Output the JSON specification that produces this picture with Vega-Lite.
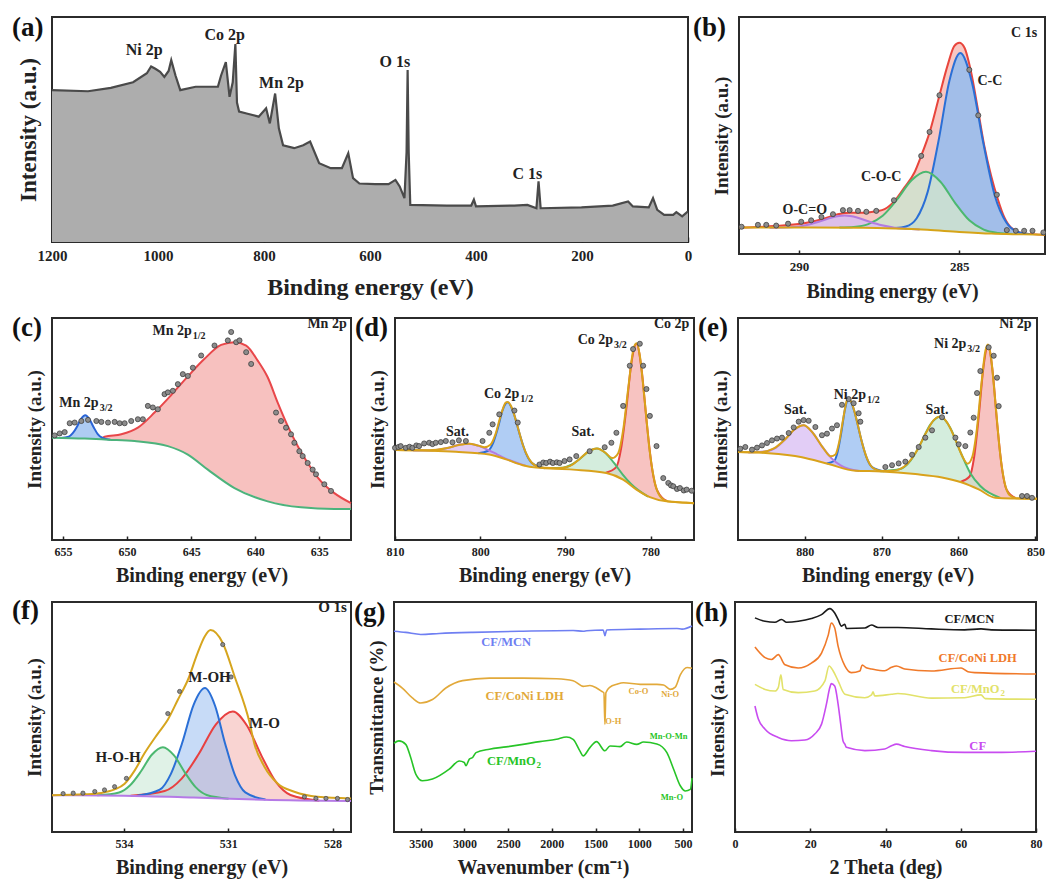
{
"$schema": "https://vega.github.io/schema/vega-lite/v6.json",
"background": "white",
"padding": {"left": 11, "top": 13, "right": 5, "bottom": 5},
"config": {
 "font": "Liberation Serif",
 "view": {"stroke": "#2b2b2b", "strokeWidth": 2},
 "axis": {"labelFont": "Liberation Serif", "labelFontWeight": "bold", "labelFontSize": 12, "labelColor": "#222", "titleFont": "Liberation Serif", "titleFontWeight": "bold", "titleFontSize": 20, "titleColor": "#222", "grid": false, "domain": false, "tickColor": "#222", "tickSize": -4, "tickWidth": 1.5, "labelFlush": false, "labelOverlap": false, "labelPadding": 10, "titlePadding": 8, "format": "d"},
 "axisY": {"labels": false, "ticks": false, "titlePadding": 8, "titleFontSize": 19},
 "title": {"anchor": "start", "frame": "group", "offset": -25, "baseline": "top", "fontSize": 27, "fontWeight": "bold", "font": "Liberation Serif", "color": "#111", "dx": -40},
 "text": {"font": "Liberation Serif", "fontWeight": "bold", "baseline": "middle"}
},
"datasets": {
 "a": [{"x":1200,"y":67.5},{"x":1132,"y":67},{"x":1089,"y":68.5},{"x":1047,"y":71},{"x":1021,"y":75},{"x":1013,"y":78},{"x":1005,"y":77},{"x":996,"y":75.6},{"x":988,"y":73.4},{"x":980,"y":76},{"x":975,"y":80.8},{"x":967,"y":74},{"x":958,"y":67.5},{"x":929,"y":69},{"x":887,"y":69},{"x":881,"y":74},{"x":872,"y":80},{"x":865,"y":64.5},{"x":859,"y":71},{"x":854,"y":88},{"x":851,"y":62},{"x":847,"y":58},{"x":831,"y":57},{"x":810,"y":55.7},{"x":796,"y":59.4},{"x":789,"y":52.7},{"x":779,"y":66},{"x":772,"y":50.5},{"x":764,"y":43},{"x":743,"y":41.7},{"x":726,"y":43},{"x":713,"y":44.6},{"x":696,"y":35},{"x":674,"y":32.8},{"x":653,"y":32.8},{"x":641,"y":39.4},{"x":632,"y":28.4},{"x":620,"y":26},{"x":590,"y":25.7},{"x":565,"y":25.7},{"x":552,"y":27.6},{"x":544,"y":24.7},{"x":535,"y":19.5},{"x":531,"y":40},{"x":529,"y":76.4},{"x":527,"y":40},{"x":524,"y":16.5},{"x":455,"y":16.2},{"x":409,"y":16.2},{"x":404,"y":18.8},{"x":400,"y":15.8},{"x":328,"y":16.2},{"x":303,"y":16.5},{"x":286,"y":15},{"x":282,"y":27},{"x":278,"y":15},{"x":201,"y":15.4},{"x":142,"y":16.2},{"x":113,"y":18},{"x":104,"y":15.8},{"x":74,"y":15.4},{"x":66,"y":19.5},{"x":58,"y":14.3},{"x":45,"y":12.1},{"x":28,"y":12.1},{"x":22,"y":13.3},{"x":11,"y":11.4},{"x":0,"y":13.6}],
 "a_lab": [{"x":1026,"y":85.2,"t":"Ni 2p"},{"x":874,"y":91.9,"t":"Co 2p"},{"x":767,"y":70.5,"t":"Mn 2p"},{"x":553,"y":80,"t":"O 1s"},{"x":303,"y":30.1,"t":"C 1s"}],
 "b": [
  {"x":291.87,"y":11.2,"b":11.2,"s":"env"},{"x":290.76,"y":11.8,"b":11.2,"s":"env"},{"x":289.72,"y":13.3,"b":11.15,"s":"env"},{"x":289.2,"y":15.0,"b":11.1,"s":"env"},{"x":288.79,"y":16.8,"b":11.1,"s":"env"},{"x":288.37,"y":17.4,"b":11.1,"s":"env"},{"x":287.96,"y":17.4,"b":11.1,"s":"env"},{"x":287.59,"y":18.0,"b":11.0,"s":"env"},{"x":287.33,"y":18.9,"b":10.9,"s":"env"},{"x":287.02,"y":22.4,"b":10.8,"s":"env"},{"x":286.71,"y":28.1,"b":10.6,"s":"env"},{"x":286.4,"y":34.4,"b":10.4,"s":"env"},{"x":286.19,"y":41.4,"b":10.3,"s":"env"},{"x":285.93,"y":51.2,"b":10.1,"s":"env"},{"x":285.62,"y":67.0,"b":9.9,"s":"env"},{"x":285.36,"y":79.9,"b":9.6,"s":"env"},{"x":285.16,"y":87.7,"b":9.45,"s":"env"},{"x":285.0,"y":89.1,"b":9.3,"s":"env"},{"x":284.84,"y":87.0,"b":9.2,"s":"env"},{"x":284.64,"y":77.1,"b":9.05,"s":"env"},{"x":284.43,"y":61.7,"b":8.9,"s":"env"},{"x":284.22,"y":45.5,"b":8.75,"s":"env"},{"x":284.01,"y":33.0,"b":8.6,"s":"env"},{"x":283.81,"y":23.5,"b":8.55,"s":"env"},{"x":283.6,"y":15.5,"b":8.5,"s":"env"},{"x":283.39,"y":11.2,"b":8.4,"s":"env"},{"x":282.98,"y":8.7,"b":8.3,"s":"env"},{"x":282.33,"y":8.1,"b":8.1,"s":"env"},
  {"x":287.01,"y":10.95,"b":10.8,"s":"p1"},{"x":286.67,"y":11.6,"b":10.6,"s":"p1"},{"x":286.33,"y":15.1,"b":10.4,"s":"p1"},{"x":285.99,"y":26.1,"b":10.2,"s":"p1"},{"x":285.65,"y":47.7,"b":9.9,"s":"p1"},{"x":285.31,"y":73.1,"b":9.6,"s":"p1"},{"x":284.97,"y":84.8,"b":9.3,"s":"p1"},{"x":284.61,"y":72.5,"b":9.0,"s":"p1"},{"x":284.25,"y":46.6,"b":8.8,"s":"p1"},{"x":283.89,"y":24.4,"b":8.55,"s":"p1"},{"x":283.53,"y":13.2,"b":8.45,"s":"p1"},{"x":283.17,"y":9.3,"b":8.3,"s":"p1"},{"x":282.81,"y":8.4,"b":8.25,"s":"p1"},
  {"x":288.74,"y":11.15,"b":11.1,"s":"p2"},{"x":288.29,"y":11.4,"b":11.1,"s":"p2"},{"x":287.84,"y":12.6,"b":11.05,"s":"p2"},{"x":287.39,"y":16.1,"b":11.0,"s":"p2"},{"x":286.94,"y":23.0,"b":10.75,"s":"p2"},{"x":286.49,"y":31.1,"b":10.5,"s":"p2"},{"x":286.04,"y":34.7,"b":10.2,"s":"p2"},{"x":285.59,"y":30.5,"b":9.85,"s":"p2"},{"x":285.14,"y":21.7,"b":9.4,"s":"p2"},{"x":284.69,"y":14.2,"b":9.1,"s":"p2"},{"x":284.24,"y":10.3,"b":8.8,"s":"p2"},{"x":283.79,"y":8.9,"b":8.55,"s":"p2"},{"x":283.34,"y":8.45,"b":8.4,"s":"p2"},
  {"x":290.92,"y":11.1,"b":11.1,"s":"p3"},{"x":290.53,"y":11.17,"b":11.1,"s":"p3"},{"x":290.14,"y":11.4,"b":11.1,"s":"p3"},{"x":289.75,"y":12.2,"b":11.1,"s":"p3"},{"x":289.36,"y":13.65,"b":11.1,"s":"p3"},{"x":288.97,"y":15.4,"b":11.1,"s":"p3"},{"x":288.58,"y":16.2,"b":11.1,"s":"p3"},{"x":288.19,"y":15.4,"b":11.1,"s":"p3"},{"x":287.8,"y":13.6,"b":11.05,"s":"p3"},{"x":287.41,"y":12.1,"b":11.0,"s":"p3"},{"x":287.02,"y":11.1,"b":10.8,"s":"p3"},{"x":286.63,"y":10.67,"b":10.6,"s":"p3"},{"x":286.24,"y":10.3,"b":10.3,"s":"p3"},
  {"x":291.87,"y":11.2,"s":"base"},{"x":288,"y":11.1,"s":"base"},{"x":287,"y":10.8,"s":"base"},{"x":286,"y":10.2,"s":"base"},{"x":285,"y":9.3,"s":"base"},{"x":284,"y":8.6,"s":"base"},{"x":283,"y":8.3,"s":"base"},{"x":282.33,"y":8.1,"s":"base"}
 ],
 "b_pts": [{"x":291.79,"y":11.5},{"x":291.28,"y":12.3},{"x":291.02,"y":12.3},{"x":290.71,"y":12.0},{"x":290.34,"y":12.8},{"x":289.93,"y":13.6},{"x":289.62,"y":14.2},{"x":289.3,"y":15.6},{"x":288.94,"y":16.8},{"x":288.63,"y":18.5},{"x":288.42,"y":18.5},{"x":288.16,"y":18.2},{"x":287.9,"y":17.8},{"x":287.59,"y":18.2},{"x":287.04,"y":22.7},{"x":286.19,"y":41.4},{"x":285.93,"y":51.5},{"x":285.62,"y":67.0},{"x":284.69,"y":77.7},{"x":284.41,"y":58.5},{"x":283.83,"y":25},{"x":283.52,"y":10.1},{"x":283.24,"y":9.8},{"x":282.98,"y":9.8},{"x":282.72,"y":9.8},{"x":282.38,"y":9.1}],
 "b_lab": [{"x":282.98,"y":93.3,"t":"C 1s"},{"x":284.05,"y":72.9,"t":"C-C"},{"x":287.44,"y":32.7,"t":"C-O-C"},{"x":289.82,"y":18.7,"t":"O-C=O"}],
 "c": [
  {"x":652.0,"y":45.4,"b":45.4,"s":"p1"},{"x":651.75,"y":46.5,"b":45.3,"s":"p1"},{"x":650.45,"y":47.6,"b":44.9,"s":"p1"},{"x":649.16,"y":50.6,"b":44.4,"s":"p1"},{"x":647.86,"y":57.4,"b":43.2,"s":"p1"},{"x":646.56,"y":65.3,"b":41.7,"s":"p1"},{"x":645.26,"y":73.7,"b":38.5,"s":"p1"},{"x":643.96,"y":81.6,"b":32.8,"s":"p1"},{"x":642.66,"y":87.9,"b":27.6,"s":"p1"},{"x":641.62,"y":89.1,"b":23.4,"s":"p1"},{"x":640.71,"y":87.6,"b":21.3,"s":"p1"},{"x":639.81,"y":80.8,"b":19.2,"s":"p1"},{"x":639.03,"y":73.3,"b":17.4,"s":"p1"},{"x":638.25,"y":61.9,"b":16.6,"s":"p1"},{"x":637.47,"y":51.4,"b":15.8,"s":"p1"},{"x":636.69,"y":42.3,"b":15.0,"s":"p1"},{"x":635.91,"y":34.7,"b":14.6,"s":"p1"},{"x":634.87,"y":26.4,"b":14.3,"s":"p1"},{"x":633.83,"y":21.1,"b":14.0,"s":"p1"},{"x":632.53,"y":16.6,"b":14.0,"s":"p1"},
  {"x":655.21,"y":46.0,"b":46.0,"s":"p2"},{"x":654.56,"y":46.5,"b":45.9,"s":"p2"},{"x":654.24,"y":48.1,"b":45.9,"s":"p2"},{"x":653.91,"y":51.05,"b":45.8,"s":"p2"},{"x":653.59,"y":54.6,"b":45.75,"s":"p2"},{"x":653.26,"y":56.2,"b":45.7,"s":"p2"},{"x":652.94,"y":54.4,"b":45.6,"s":"p2"},{"x":652.61,"y":50.8,"b":45.55,"s":"p2"},{"x":652.29,"y":47.7,"b":45.5,"s":"p2"},{"x":651.96,"y":46.1,"b":45.45,"s":"p2"},{"x":651.31,"y":45.15,"b":45.15,"s":"p2"},
  {"x":655.86,"y":46.1,"s":"base"},{"x":653.31,"y":45.7,"s":"base"},{"x":651.49,"y":45.2,"s":"base"},{"x":649.42,"y":44.6,"s":"base"},{"x":646.82,"y":42.3,"s":"base"},{"x":645.26,"y":38.5,"s":"base"},{"x":643.7,"y":31.7,"s":"base"},{"x":641.62,"y":23.4,"s":"base"},{"x":639.03,"y":17.4,"s":"base"},{"x":636.43,"y":14.7,"s":"base"},{"x":633.83,"y":14.0,"s":"base"},{"x":632.53,"y":14.0,"s":"base"}
 ],
 "c_pts": [{"x":655.65,"y":47.1},{"x":655.26,"y":48.0},{"x":654.87,"y":48.6},{"x":654.48,"y":52.6},{"x":654.09,"y":52.9},{"x":653.57,"y":53.6},{"x":653.05,"y":54.1},{"x":652.4,"y":53.6},{"x":652.01,"y":53.2},{"x":651.49,"y":52.9},{"x":650.97,"y":53.2},{"x":650.58,"y":52.6},{"x":650.19,"y":52.6},{"x":649.68,"y":53.6},{"x":649.16,"y":54.4},{"x":648.77,"y":54.4},{"x":648.38,"y":60.4},{"x":647.99,"y":59.7},{"x":647.6,"y":58.9},{"x":647.08,"y":65.7},{"x":646.82,"y":66.5},{"x":646.43,"y":67.2},{"x":646.04,"y":70.2},{"x":645.65,"y":74.7},{"x":645.26,"y":73.9},{"x":644.87,"y":77.6},{"x":644.22,"y":83.1},{"x":643.18,"y":87.6},{"x":642.14,"y":89.9},{"x":641.88,"y":93.7},{"x":641.49,"y":89.1},{"x":641.23,"y":89.9},{"x":640.71,"y":84.6},{"x":640.32,"y":79.3},{"x":638.38,"y":57.4},{"x":637.99,"y":53.6},{"x":637.6,"y":50.6},{"x":637.21,"y":47.6},{"x":636.95,"y":43.8},{"x":636.56,"y":40.0},{"x":636.3,"y":37.8},{"x":635.91,"y":34.7},{"x":635.52,"y":31.7},{"x":635.26,"y":29.6},{"x":634.61,"y":25.1},{"x":634.09,"y":22.1}],
 "c_lab": [{"x":634.4,"y":97.4,"t":"Mn 2p"},{"x":644.95,"y":94,"t":"Mn 2p","sub":"1/2"},{"x":652.22,"y":61.6,"t":"Mn 2p","sub":"3/2"}],
 "d": [
  {"x":785.25,"y":30.3,"b":30.2,"s":"p1"},{"x":784.05,"y":32.7,"b":28.6,"s":"p1"},{"x":783.45,"y":41.4,"b":27.6,"s":"p1"},{"x":782.85,"y":59.1,"b":26.2,"s":"p1"},{"x":782.25,"y":79.7,"b":24.4,"s":"p1"},{"x":781.65,"y":88.4,"b":22.7,"s":"p1"},{"x":781.05,"y":76.7,"b":21.4,"s":"p1"},{"x":780.45,"y":53.0,"b":20.1,"s":"p1"},{"x":779.85,"y":32.9,"b":19.1,"s":"p1"},{"x":779.25,"y":22.6,"b":18.5,"s":"p1"},{"x":778.05,"y":17.5,"b":17.4,"s":"p1"},
  {"x":800.22,"y":39.05,"b":39.0,"s":"p2"},{"x":799.07,"y":40.2,"b":38.6,"s":"p2"},{"x":798.5,"y":43.5,"b":38.1,"s":"p2"},{"x":797.92,"y":50.5,"b":37.5,"s":"p2"},{"x":797.35,"y":58.7,"b":36.9,"s":"p2"},{"x":796.77,"y":62.0,"b":36.1,"s":"p2"},{"x":796.05,"y":56.9,"b":35.1,"s":"p2"},{"x":795.32,"y":47.1,"b":34.1,"s":"p2"},{"x":794.6,"y":38.8,"b":33.4,"s":"p2"},{"x":793.87,"y":34.5,"b":32.9,"s":"p2"},{"x":792.42,"y":32.35,"b":32.3,"s":"p2"},
  {"x":792.29,"y":32.45,"b":32.4,"s":"p3"},{"x":790.29,"y":32.6,"b":31.95,"s":"p3"},{"x":789.29,"y":33.9,"b":31.7,"s":"p3"},{"x":788.29,"y":36.6,"b":31.3,"s":"p3"},{"x":787.29,"y":39.8,"b":30.9,"s":"p3"},{"x":786.29,"y":41.2,"b":30.6,"s":"p3"},{"x":785.29,"y":39.2,"b":30.3,"s":"p3"},{"x":784.29,"y":34.7,"b":29.4,"s":"p3"},{"x":783.29,"y":29.6,"b":27.4,"s":"p3"},{"x":782.29,"y":25.2,"b":24.5,"s":"p3"},{"x":780.29,"y":19.5,"b":19.5,"s":"p3"},
  {"x":807.88,"y":40.3,"b":40.3,"s":"p4"},{"x":805.68,"y":40.35,"b":40.1,"s":"p4"},{"x":804.58,"y":40.84,"b":40.0,"s":"p4"},{"x":803.48,"y":41.8,"b":39.8,"s":"p4"},{"x":802.38,"y":43.0,"b":39.6,"s":"p4"},{"x":801.28,"y":43.4,"b":39.4,"s":"p4"},{"x":800.18,"y":42.4,"b":39.0,"s":"p4"},{"x":799.08,"y":40.6,"b":38.6,"s":"p4"},{"x":797.98,"y":38.5,"b":37.7,"s":"p4"},{"x":796.88,"y":36.45,"b":36.2,"s":"p4"},{"x":794.68,"y":33.5,"b":33.5,"s":"p4"},
  {"x":810,"y":40.5,"s":"base"},{"x":802.85,"y":39.7,"s":"base"},{"x":798.93,"y":38.5,"s":"base"},{"x":796.96,"y":36.3,"s":"base"},{"x":795.0,"y":33.7,"s":"base"},{"x":793.43,"y":32.6,"s":"base"},{"x":789.11,"y":31.7,"s":"base"},{"x":785.19,"y":30.2,"s":"base"},{"x":783.22,"y":27.2,"s":"base"},{"x":781.65,"y":22.7,"s":"base"},{"x":780.08,"y":19.3,"s":"base"},{"x":778.12,"y":17.4,"s":"base"},{"x":774.9,"y":16.6,"s":"base"},
  {"x":810,"y":40.5,"s":"env"},{"x":806,"y":40.4,"s":"env"},{"x":804,"y":41.3,"s":"env"},{"x":802.5,"y":42.8,"s":"env"},{"x":801.3,"y":43.4,"s":"env"},{"x":800.2,"y":42.5,"s":"env"},{"x":799.5,"y":41.8,"s":"env"},{"x":798.8,"y":42.9,"s":"env"},{"x":798.2,"y":47.7,"s":"env"},{"x":797.6,"y":55.9,"s":"env"},{"x":797.0,"y":61.9,"s":"env"},{"x":796.77,"y":62.2,"s":"env"},{"x":796.3,"y":59.7,"s":"env"},{"x":795.7,"y":52.4,"s":"env"},{"x":795.0,"y":42.9,"s":"env"},{"x":794.3,"y":36.7,"s":"env"},{"x":793.5,"y":33.45,"s":"env"},{"x":792.5,"y":32.5,"s":"env"},{"x":791,"y":32.3,"s":"env"},{"x":789.5,"y":33.3,"s":"env"},{"x":788.3,"y":36.6,"s":"env"},{"x":787.3,"y":39.8,"s":"env"},{"x":786.3,"y":41.2,"s":"env"},{"x":785.3,"y":39.3,"s":"env"},{"x":784.5,"y":36.9,"s":"env"},{"x":783.8,"y":39.1,"s":"env"},{"x":783.2,"y":49.9,"s":"env"},{"x":782.6,"y":69.0,"s":"env"},{"x":782.0,"y":86.1,"s":"env"},{"x":781.65,"y":88.6,"s":"env"},{"x":781.3,"y":84.0,"s":"env"},{"x":780.7,"y":63.2,"s":"env"},{"x":780.1,"y":40.0,"s":"env"},{"x":779.5,"y":25.8,"s":"env"},{"x":778.9,"y":19.8,"s":"env"},{"x":778.0,"y":17.5,"s":"env"},{"x":776,"y":16.9,"s":"env"},{"x":774.9,"y":16.6,"s":"env"}
 ],
 "d_pts": [{"x":810.0,"y":41.5},{"x":809.6,"y":41.9},{"x":809.33,"y":42.3},{"x":808.74,"y":41.5},{"x":808.3,"y":42.0},{"x":807.96,"y":41.5},{"x":807.5,"y":42.6},{"x":807.17,"y":42.3},{"x":806.58,"y":43.5},{"x":805.99,"y":43.8},{"x":805.6,"y":43.2},{"x":805.21,"y":43.8},{"x":804.62,"y":44.1},{"x":804.03,"y":44.6},{"x":803.25,"y":44.0},{"x":802.5,"y":44.9},{"x":801.68,"y":44.6},{"x":799.72,"y":44.6},{"x":798.93,"y":48.3},{"x":798.54,"y":52.1},{"x":797.76,"y":56.6},{"x":795.98,"y":58.3},{"x":795.59,"y":52.9},{"x":793.04,"y":34.0},{"x":792.6,"y":34.9},{"x":792.25,"y":34.7},{"x":791.8,"y":35.3},{"x":791.47,"y":34.7},{"x":791.0,"y":35.0},{"x":790.68,"y":34.7},{"x":790.1,"y":35.6},{"x":789.5,"y":36.3},{"x":788.72,"y":37.8},{"x":787.15,"y":40.0},{"x":785.38,"y":41.8},{"x":784.6,"y":43.8},{"x":784.01,"y":48.3},{"x":783.22,"y":60.4},{"x":782.44,"y":78.5},{"x":782.05,"y":86.0},{"x":781.26,"y":88.4},{"x":780.87,"y":78.5},{"x":780.48,"y":68.0},{"x":780.08,"y":55.9},{"x":779.3,"y":42.3},{"x":778.51,"y":27.9},{"x":777.92,"y":25.7},{"x":777.6,"y":24.6},{"x":777.33,"y":24.2},{"x":776.9,"y":23.0},{"x":776.55,"y":23.4},{"x":776.1,"y":22.3},{"x":775.76,"y":22.7},{"x":775.17,"y":22.2}],
 "d_lab": [{"x":777.53,"y":97.4,"t":"Co 2p"},{"x":784.4,"y":89.9,"t":"Co 2p","sub":"3/2"},{"x":795.4,"y":65.7,"t":"Co 2p","sub":"1/2"},{"x":802.66,"y":48.6,"t":"Sat."},{"x":787.93,"y":48.6,"t":"Sat."}],
 "e": [
  {"x":859.76,"y":26.2,"b":26.1,"s":"p1"},{"x":858.56,"y":28.6,"b":24.5,"s":"p1"},{"x":857.96,"y":37.5,"b":23.6,"s":"p1"},{"x":857.36,"y":55.9,"b":22.8,"s":"p1"},{"x":856.76,"y":77.7,"b":22.0,"s":"p1"},{"x":856.16,"y":87.5,"b":21.3,"s":"p1"},{"x":855.56,"y":76.0,"b":20.3,"s":"p1"},{"x":854.96,"y":52.1,"b":19.0,"s":"p1"},{"x":854.36,"y":32.7,"b":18.8,"s":"p1"},{"x":853.76,"y":22.8,"b":18.7,"s":"p1"},{"x":852.56,"y":18.8,"b":18.7,"s":"p1"},
  {"x":877.13,"y":34.5,"b":34.4,"s":"p2"},{"x":876.18,"y":35.6,"b":33.6,"s":"p2"},{"x":875.71,"y":39.8,"b":33.2,"s":"p2"},{"x":875.23,"y":48.6,"b":32.8,"s":"p2"},{"x":874.76,"y":58.9,"b":32.4,"s":"p2"},{"x":874.28,"y":63.6,"b":32.1,"s":"p2"},{"x":873.52,"y":57.8,"b":31.3,"s":"p2"},{"x":872.76,"y":46.9,"b":31.1,"s":"p2"},{"x":872.0,"y":37.6,"b":31.0,"s":"p2"},{"x":871.24,"y":32.9,"b":30.9,"s":"p2"},{"x":869.72,"y":31.0,"b":30.9,"s":"p2"},
  {"x":870.16,"y":30.95,"b":30.9,"s":"p3"},{"x":867.56,"y":32.0,"b":30.3,"s":"p3"},{"x":866.26,"y":35.6,"b":29.9,"s":"p3"},{"x":864.96,"y":43.2,"b":29.5,"s":"p3"},{"x":863.66,"y":52.0,"b":29.0,"s":"p3"},{"x":862.36,"y":55.6,"b":28.3,"s":"p3"},{"x":861.06,"y":50.5,"b":27.5,"s":"p3"},{"x":859.76,"y":39.8,"b":26.1,"s":"p3"},{"x":858.46,"y":30.1,"b":24.4,"s":"p3"},{"x":857.16,"y":24.3,"b":22.6,"s":"p3"},{"x":854.56,"y":18.95,"b":18.9,"s":"p3"},
  {"x":887.33,"y":39.4,"b":39.4,"s":"p4"},{"x":884.93,"y":40.0,"b":39.1,"s":"p4"},{"x":883.73,"y":41.6,"b":38.6,"s":"p4"},{"x":882.53,"y":45.4,"b":38.2,"s":"p4"},{"x":881.33,"y":49.8,"b":37.7,"s":"p4"},{"x":880.13,"y":51.7,"b":37.3,"s":"p4"},{"x":878.93,"y":48.2,"b":36.1,"s":"p4"},{"x":877.73,"y":42.1,"b":34.9,"s":"p4"},{"x":876.53,"y":36.9,"b":33.9,"s":"p4"},{"x":875.33,"y":33.6,"b":32.7,"s":"p4"},{"x":872.93,"y":31.1,"b":31.1,"s":"p4"},
  {"x":888.67,"y":39.6,"s":"base"},{"x":884.68,"y":39.1,"s":"base"},{"x":880.35,"y":37.3,"s":"base"},{"x":876.88,"y":34.2,"s":"base"},{"x":873.41,"y":31.2,"s":"base"},{"x":869.94,"y":30.9,"s":"base"},{"x":865.61,"y":29.7,"s":"base"},{"x":862.14,"y":28.2,"s":"base"},{"x":859.54,"y":25.9,"s":"base"},{"x":857.37,"y":22.8,"s":"base"},{"x":855.21,"y":19.0,"s":"base"},{"x":853.04,"y":18.7,"s":"base"},{"x":849.79,"y":18.6,"s":"base"},
  {"x":888.67,"y":39.6,"s":"env"},{"x":886,"y":39.5,"s":"env"},{"x":884,"y":41.3,"s":"env"},{"x":882.5,"y":45.5,"s":"env"},{"x":881.3,"y":49.9,"s":"env"},{"x":880.13,"y":51.7,"s":"env"},{"x":879,"y":48.5,"s":"env"},{"x":877.7,"y":42.0,"s":"env"},{"x":876.6,"y":37.7,"s":"env"},{"x":876.0,"y":38.5,"s":"env"},{"x":875.5,"y":44.3,"s":"env"},{"x":875.0,"y":54.4,"s":"env"},{"x":874.5,"y":63.0,"s":"env"},{"x":874.28,"y":63.8,"s":"env"},{"x":873.8,"y":61.0,"s":"env"},{"x":873.2,"y":53.4,"s":"env"},{"x":872.5,"y":43.3,"s":"env"},{"x":871.8,"y":36.0,"s":"env"},{"x":871,"y":32.1,"s":"env"},{"x":870,"y":31.1,"s":"env"},{"x":868.5,"y":31.2,"s":"env"},{"x":867,"y":33.2,"s":"env"},{"x":865.5,"y":39.6,"s":"env"},{"x":864.2,"y":48.4,"s":"env"},{"x":863.2,"y":54.1,"s":"env"},{"x":862.36,"y":55.6,"s":"env"},{"x":861.4,"y":52.5,"s":"env"},{"x":860.3,"y":44.3,"s":"env"},{"x":859.5,"y":37.7,"s":"env"},{"x":858.8,"y":34.4,"s":"env"},{"x":858.2,"y":37.5,"s":"env"},{"x":857.6,"y":50.2,"s":"env"},{"x":857.0,"y":70.9,"s":"env"},{"x":856.5,"y":85.3,"s":"env"},{"x":856.16,"y":88.1,"s":"env"},{"x":855.8,"y":83.0,"s":"env"},{"x":855.2,"y":61.9,"s":"env"},{"x":854.6,"y":39.4,"s":"env"},{"x":854.0,"y":25.8,"s":"env"},{"x":853.4,"y":20.4,"s":"env"},{"x":852.5,"y":18.8,"s":"env"},{"x":851,"y":18.6,"s":"env"},{"x":849.79,"y":18.6,"s":"env"}
 ],
 "e_pts": [{"x":888.37,"y":41.1},{"x":887.72,"y":41.9},{"x":886.85,"y":40.7},{"x":886.2,"y":41.6},{"x":885.55,"y":42.6},{"x":884.9,"y":43.7},{"x":884.25,"y":44.9},{"x":883.6,"y":45.7},{"x":882.95,"y":46.1},{"x":882.08,"y":48.2},{"x":881.43,"y":50.7},{"x":880.78,"y":53.3},{"x":880.13,"y":54.0},{"x":879.48,"y":53.7},{"x":878.61,"y":50.9},{"x":877.75,"y":47.2},{"x":877.1,"y":47.9},{"x":876.45,"y":50.2},{"x":875.8,"y":51.7},{"x":875.15,"y":60.9},{"x":874.28,"y":63.5},{"x":873.63,"y":61.6},{"x":872.98,"y":57.1},{"x":872.76,"y":53.3},{"x":869.51,"y":32.9},{"x":868.64,"y":33.7},{"x":867.78,"y":34.5},{"x":866.91,"y":35.3},{"x":866.04,"y":38.4},{"x":865.17,"y":41.9},{"x":864.31,"y":46.1},{"x":863.44,"y":49.4},{"x":862.14,"y":55.3},{"x":860.4,"y":46.1},{"x":859.97,"y":43.1},{"x":859.11,"y":42.3},{"x":858.46,"y":48.4},{"x":858.02,"y":55.1},{"x":857.59,"y":66.2},{"x":857.16,"y":76.1},{"x":856.07,"y":86.8},{"x":855.42,"y":83.0},{"x":854.99,"y":73.1},{"x":854.77,"y":60.3},{"x":851.74,"y":19.8},{"x":851.09,"y":19.8},{"x":850.44,"y":19.0}],
 "e_lab": [{"x":852.6,"y":97.4,"t":"Ni 2p"},{"x":858.98,"y":88.3,"t":"Ni 2p","sub":"3/2"},{"x":872.02,"y":65.4,"t":"Ni 2p","sub":"1/2"},{"x":881.21,"y":58.6,"t":"Sat."},{"x":862.79,"y":58.6,"t":"Sat."}],
 "f": [
  {"x":533.81,"y":15.8,"b":15.75,"s":"p1"},{"x":532.83,"y":17.8,"b":15.4,"s":"p1"},{"x":532.34,"y":23.2,"b":15.15,"s":"p1"},{"x":531.85,"y":33.9,"b":14.9,"s":"p1"},{"x":531.36,"y":46.7,"b":14.7,"s":"p1"},{"x":530.87,"y":52.4,"b":14.45,"s":"p1"},{"x":530.46,"y":46.2,"b":14.25,"s":"p1"},{"x":530.04,"y":33.0,"b":14.0,"s":"p1"},{"x":529.63,"y":21.8,"b":13.85,"s":"p1"},{"x":529.21,"y":16.1,"b":13.7,"s":"p1"},{"x":528.38,"y":13.6,"b":13.55,"s":"p1"},
  {"x":533.62,"y":15.75,"b":15.65,"s":"p2"},{"x":532.97,"y":18.4,"b":15.4,"s":"p2"},{"x":532.65,"y":25.3,"b":15.25,"s":"p2"},{"x":532.32,"y":39.0,"b":15.1,"s":"p2"},{"x":532.0,"y":55.2,"b":15.0,"s":"p2"},{"x":531.67,"y":62.6,"b":14.85,"s":"p2"},{"x":531.38,"y":54.9,"b":14.7,"s":"p2"},{"x":531.09,"y":38.4,"b":14.55,"s":"p2"},{"x":530.8,"y":24.4,"b":14.4,"s":"p2"},{"x":530.51,"y":17.2,"b":14.25,"s":"p2"},{"x":529.93,"y":14.1,"b":14.0,"s":"p2"},
  {"x":534.77,"y":15.95,"b":15.9,"s":"p3"},{"x":534.14,"y":17.2,"b":15.85,"s":"p3"},{"x":533.83,"y":20.2,"b":15.7,"s":"p3"},{"x":533.51,"y":26.4,"b":15.6,"s":"p3"},{"x":533.2,"y":33.6,"b":15.5,"s":"p3"},{"x":532.88,"y":36.9,"b":15.35,"s":"p3"},{"x":532.56,"y":33.3,"b":15.2,"s":"p3"},{"x":532.25,"y":25.9,"b":15.1,"s":"p3"},{"x":531.94,"y":19.5,"b":15.0,"s":"p3"},{"x":531.62,"y":16.1,"b":14.8,"s":"p3"},{"x":530.99,"y":14.5,"b":14.5,"s":"p3"},
  {"x":536.07,"y":16.0,"s":"base"},{"x":534,"y":15.8,"s":"base"},{"x":532,"y":15.0,"s":"base"},{"x":530,"y":14.0,"s":"base"},{"x":527.47,"y":13.5,"s":"base"},
  {"x":536.07,"y":16.0,"s":"env"},{"x":535.13,"y":16.4,"s":"env"},{"x":534.65,"y":17.0,"s":"env"},{"x":534.27,"y":18.5,"s":"env"},{"x":533.98,"y":21.0,"s":"env"},{"x":533.69,"y":26.8,"s":"env"},{"x":533.41,"y":34.2,"s":"env"},{"x":533.02,"y":42.9,"s":"env"},{"x":532.74,"y":48.8,"s":"env"},{"x":532.45,"y":57.5,"s":"env"},{"x":532.16,"y":66.2,"s":"env"},{"x":531.88,"y":77.9,"s":"env"},{"x":531.67,"y":85.2,"s":"env"},{"x":531.51,"y":87.8,"s":"env"},{"x":531.16,"y":82.2,"s":"env"},{"x":530.82,"y":67.7,"s":"env"},{"x":530.39,"y":47.7,"s":"env"},{"x":530.25,"y":38.4,"s":"env"},{"x":529.96,"y":28.4,"s":"env"},{"x":529.58,"y":21.1,"s":"env"},{"x":529.1,"y":17.5,"s":"env"},{"x":528.43,"y":15.3,"s":"env"},{"x":527.47,"y":14.6,"s":"env"}
 ],
 "f_pts": [{"x":535.75,"y":16.7},{"x":535.46,"y":16.9},{"x":535.18,"y":16.9},{"x":534.84,"y":17.6},{"x":534.56,"y":18.3},{"x":534.27,"y":19.7},{"x":533.93,"y":23.3},{"x":532.74,"y":51.5},{"x":532.4,"y":61.1},{"x":531.16,"y":81.5},{"x":530.92,"y":67.4},{"x":528.81,"y":15.3},{"x":528.48,"y":14.6},{"x":528.19,"y":14.6},{"x":527.86,"y":14.6},{"x":527.57,"y":14.1}],
 "f_lab": [{"x":528.0,"y":97.8,"t":"O 1s"},{"x":531.54,"y":67.4,"t":"M-OH"},{"x":529.96,"y":47.3,"t":"M-O"},{"x":534.17,"y":32.8,"t":"H-O-H"}],
 "g": [
  {"x":3806,"y":87.3,"s":"MCN"},{"x":3672,"y":86.8,"s":"MCN"},{"x":3500,"y":85.9,"s":"MCN"},{"x":3289,"y":86.3,"s":"MCN"},{"x":2906,"y":86.8,"s":"MCN"},{"x":2331,"y":87.3,"s":"MCN"},{"x":1757,"y":87.6,"s":"MCN"},{"x":1642,"y":87.3,"s":"MCN"},{"x":1600,"y":87.5,"s":"MCN"},{"x":1412,"y":87.8,"s":"MCN"},{"x":1393,"y":85.3,"s":"MCN"},{"x":1374,"y":87.8,"s":"MCN"},{"x":990,"y":88.2,"s":"MCN"},{"x":569,"y":88.5,"s":"MCN"},{"x":511,"y":88.2,"s":"MCN"},{"x":397,"y":89.6,"s":"MCN"},
  {"x":3806,"y":65.2,"s":"LDH"},{"x":3711,"y":62.6,"s":"LDH"},{"x":3596,"y":58.3,"s":"LDH"},{"x":3500,"y":56.1,"s":"LDH"},{"x":3366,"y":57.6,"s":"LDH"},{"x":3213,"y":62.6,"s":"LDH"},{"x":3021,"y":65.8,"s":"LDH"},{"x":2715,"y":66.9,"s":"LDH"},{"x":2331,"y":66.9,"s":"LDH"},{"x":1948,"y":66.6,"s":"LDH"},{"x":1757,"y":65.8,"s":"LDH"},{"x":1642,"y":63.3,"s":"LDH"},{"x":1565,"y":63.7,"s":"LDH"},{"x":1489,"y":62.6,"s":"LDH"},{"x":1431,"y":61.2,"s":"LDH"},{"x":1405,"y":60.5,"s":"LDH"},{"x":1393,"y":46.8,"s":"LDH"},{"x":1382,"y":60.5,"s":"LDH"},{"x":1335,"y":63.0,"s":"LDH"},{"x":1259,"y":64.2,"s":"LDH"},{"x":1182,"y":64.9,"s":"LDH"},{"x":990,"y":64.2,"s":"LDH"},{"x":799,"y":64.2,"s":"LDH"},{"x":722,"y":63.9,"s":"LDH"},{"x":646,"y":62.0,"s":"LDH"},{"x":588,"y":63.0,"s":"LDH"},{"x":531,"y":68.3,"s":"LDH"},{"x":454,"y":71.5,"s":"LDH"},{"x":397,"y":71.2,"s":"LDH"},
  {"x":3806,"y":38.6,"s":"MnO2"},{"x":3749,"y":39.6,"s":"MnO2"},{"x":3672,"y":38.1,"s":"MnO2"},{"x":3615,"y":32.4,"s":"MnO2"},{"x":3557,"y":25.2,"s":"MnO2"},{"x":3481,"y":22.3,"s":"MnO2"},{"x":3366,"y":23.0,"s":"MnO2"},{"x":3174,"y":27.3,"s":"MnO2"},{"x":3059,"y":30.9,"s":"MnO2"},{"x":3002,"y":30.2,"s":"MnO2"},{"x":2983,"y":28.8,"s":"MnO2"},{"x":2944,"y":31.7,"s":"MnO2"},{"x":2906,"y":32.4,"s":"MnO2"},{"x":2868,"y":34.5,"s":"MnO2"},{"x":2715,"y":36.0,"s":"MnO2"},{"x":2523,"y":37.0,"s":"MnO2"},{"x":2331,"y":38.1,"s":"MnO2"},{"x":2140,"y":39.3,"s":"MnO2"},{"x":1948,"y":40.3,"s":"MnO2"},{"x":1833,"y":41.3,"s":"MnO2"},{"x":1757,"y":40.3,"s":"MnO2"},{"x":1680,"y":35.3,"s":"MnO2"},{"x":1642,"y":33.1,"s":"MnO2"},{"x":1565,"y":36.7,"s":"MnO2"},{"x":1489,"y":39.3,"s":"MnO2"},{"x":1393,"y":35.3,"s":"MnO2"},{"x":1335,"y":37.4,"s":"MnO2"},{"x":1220,"y":37.1,"s":"MnO2"},{"x":1144,"y":39.1,"s":"MnO2"},{"x":1029,"y":38.1,"s":"MnO2"},{"x":952,"y":39.1,"s":"MnO2"},{"x":799,"y":38.3,"s":"MnO2"},{"x":684,"y":34.5,"s":"MnO2"},{"x":607,"y":27.3,"s":"MnO2"},{"x":531,"y":20.1,"s":"MnO2"},{"x":473,"y":17.8,"s":"MnO2"},{"x":416,"y":18.5,"s":"MnO2"},{"x":397,"y":23.4,"s":"MnO2"}
 ],
 "g_lab": [{"x":2523,"y":82.7,"t":"CF/MCN","s":"MCN","z":"big"},{"x":2312,"y":59,"t":"CF/CoNi LDH","s":"LDH","z":"big"},{"x":1010,"y":61.2,"t":"Co-O","s":"LDH","z":"small"},{"x":646,"y":60,"t":"Ni-O","s":"LDH","z":"small"},{"x":1297,"y":48.2,"t":"O-H","s":"LDH","z":"small"},{"x":665,"y":41.7,"t":"Mn-O-Mn","s":"MnO2","z":"small"},{"x":627,"y":15.1,"t":"Mn-O","s":"MnO2","z":"small"}],
 "g_sub": [{"x":2186,"y":30.9,"t":"CF/MnO","sub":"2","s":"MnO2"}],
 "h": [
  {"x":5.3,"y":93.1,"s":"MCN"},{"x":8.0,"y":91.6,"s":"MCN"},{"x":10.6,"y":91.2,"s":"MCN"},{"x":12.4,"y":92.4,"s":"MCN"},{"x":13.7,"y":91.2,"s":"MCN"},{"x":16.8,"y":91.6,"s":"MCN"},{"x":20.3,"y":92.8,"s":"MCN"},{"x":23.0,"y":94.5,"s":"MCN"},{"x":25.2,"y":97.1,"s":"MCN"},{"x":26.5,"y":95.2,"s":"MCN"},{"x":27.4,"y":92.4,"s":"MCN"},{"x":28.3,"y":89.5,"s":"MCN"},{"x":29.2,"y":90.3,"s":"MCN"},{"x":29.6,"y":88.5,"s":"MCN"},{"x":34.5,"y":88.7,"s":"MCN"},{"x":36.3,"y":90.0,"s":"MCN"},{"x":38.0,"y":88.9,"s":"MCN"},{"x":43.3,"y":88.9,"s":"MCN"},{"x":52.2,"y":88.3,"s":"MCN"},{"x":61.0,"y":87.9,"s":"MCN"},{"x":65.4,"y":88.3,"s":"MCN"},{"x":68.1,"y":87.9,"s":"MCN"},{"x":80,"y":87.7,"s":"MCN"},
  {"x":5.3,"y":80.4,"s":"LDH"},{"x":8.0,"y":75.8,"s":"LDH"},{"x":9.7,"y":75.0,"s":"LDH"},{"x":11.5,"y":77.1,"s":"LDH"},{"x":13.3,"y":72.7,"s":"LDH"},{"x":16.8,"y":71.3,"s":"LDH"},{"x":20.3,"y":73.4,"s":"LDH"},{"x":23.0,"y":77.8,"s":"LDH"},{"x":24.8,"y":85.7,"s":"LDH"},{"x":25.6,"y":90.9,"s":"LDH"},{"x":26.5,"y":88.7,"s":"LDH"},{"x":27.4,"y":80.8,"s":"LDH"},{"x":29.2,"y":72.2,"s":"LDH"},{"x":30.9,"y":69.3,"s":"LDH"},{"x":33.2,"y":70.0,"s":"LDH"},{"x":33.8,"y":72.6,"s":"LDH"},{"x":34.9,"y":71.4,"s":"LDH"},{"x":36.3,"y":70.9,"s":"LDH"},{"x":39.8,"y":70.1,"s":"LDH"},{"x":41.6,"y":71.6,"s":"LDH"},{"x":42.9,"y":72.2,"s":"LDH"},{"x":45.1,"y":70.9,"s":"LDH"},{"x":52.2,"y":70.0,"s":"LDH"},{"x":60.1,"y":71.3,"s":"LDH"},{"x":61.9,"y":69.7,"s":"LDH"},{"x":63.7,"y":69.3,"s":"LDH"},{"x":80,"y":68.7,"s":"LDH"},
  {"x":5.3,"y":64.2,"s":"MnO2"},{"x":8.0,"y":62.0,"s":"MnO2"},{"x":10.6,"y":61.3,"s":"MnO2"},{"x":11.5,"y":62.8,"s":"MnO2"},{"x":12.2,"y":68.3,"s":"MnO2"},{"x":12.8,"y":62.0,"s":"MnO2"},{"x":16.8,"y":60.6,"s":"MnO2"},{"x":21.2,"y":61.3,"s":"MnO2"},{"x":23.9,"y":65.7,"s":"MnO2"},{"x":25.0,"y":72.2,"s":"MnO2"},{"x":26.1,"y":70.0,"s":"MnO2"},{"x":27.4,"y":65.7,"s":"MnO2"},{"x":29.2,"y":59.9,"s":"MnO2"},{"x":34.5,"y":58.4,"s":"MnO2"},{"x":36.3,"y":59.6,"s":"MnO2"},{"x":36.7,"y":61.0,"s":"MnO2"},{"x":37.1,"y":59.2,"s":"MnO2"},{"x":41.6,"y":59.9,"s":"MnO2"},{"x":43.3,"y":60.2,"s":"MnO2"},{"x":52.2,"y":58.2,"s":"MnO2"},{"x":61.0,"y":58.4,"s":"MnO2"},{"x":65.4,"y":59.6,"s":"MnO2"},{"x":66.5,"y":58.0,"s":"MnO2"},{"x":80,"y":57.7,"s":"MnO2"},
  {"x":5.3,"y":54.8,"s":"CF"},{"x":6.2,"y":49.1,"s":"CF"},{"x":8.0,"y":44.7,"s":"CF"},{"x":11.5,"y":41.1,"s":"CF"},{"x":15.0,"y":39.7,"s":"CF"},{"x":18.6,"y":40.0,"s":"CF"},{"x":21.2,"y":42.6,"s":"CF"},{"x":23.0,"y":46.9,"s":"CF"},{"x":24.3,"y":55.6,"s":"CF"},{"x":25.2,"y":62.8,"s":"CF"},{"x":25.6,"y":64.5,"s":"CF"},{"x":26.5,"y":63.5,"s":"CF"},{"x":27.4,"y":55.6,"s":"CF"},{"x":28.1,"y":46.9,"s":"CF"},{"x":28.7,"y":39.7,"s":"CF"},{"x":29.2,"y":38.2,"s":"CF"},{"x":29.6,"y":36.8,"s":"CF"},{"x":34.5,"y":35.4,"s":"CF"},{"x":39.8,"y":36.1,"s":"CF"},{"x":41.6,"y":37.5,"s":"CF"},{"x":42.9,"y":38.2,"s":"CF"},{"x":45.1,"y":37.2,"s":"CF"},{"x":52.2,"y":35.4,"s":"CF"},{"x":61.0,"y":34.6,"s":"CF"},{"x":69.8,"y":34.6,"s":"CF"},{"x":80,"y":35.1,"s":"CF"}
 ],
 "h_lab": [{"x":62.3,"y":92.4,"t":"CF/MCN","s":"MCN"},{"x":64.5,"y":75.8,"t":"CF/CoNi LDH","s":"LDH"},{"x":64.5,"y":37.5,"t":"CF","s":"CF"}],
 "h_sub": [{"x":70.3,"y":62,"t":"CF/MnO","sub":"2","s":"MnO2"}]
},
"spacing": 10,
"resolve": {"scale": {"color": "independent"}},
"vconcat": [
 {"hconcat": [
  {"width": 636, "height": 225, "title": {"text": "(a)", "dx": -40},
   "layer": [
    {"data": {"name": "a"}, "mark": {"type": "area", "color": "#adadad", "opacity": 1},
     "encoding": {"x": {"field": "x", "type": "quantitative", "scale": {"domain": [0, 1200], "reverse": true, "nice": false, "zero": false}, "axis": {"values": [1200, 1000, 800, 600, 400, 200, 0], "title": "Binding energy (eV)", "labelFontSize": 15, "titleFontSize": 24, "tickSize": -5, "labelPadding": 11, "titlePadding": 12}},
      "y": {"field": "y", "type": "quantitative", "scale": {"domain": [0, 100], "nice": false}, "axis": {"title": "Intensity (a.u.)", "titleFontSize": 23, "titlePadding": 12}}}},
    {"data": {"name": "a"}, "mark": {"type": "line", "color": "#4a4a4a", "strokeWidth": 2.2},
     "encoding": {"x": {"field": "x", "type": "quantitative"}, "y": {"field": "y", "type": "quantitative"}, "order": {"field": "x", "type": "quantitative"}}},
    {"data": {"name": "a_lab"}, "mark": {"type": "text", "fontSize": 16, "color": "#222"},
     "encoding": {"x": {"field": "x", "type": "quantitative"}, "y": {"field": "y", "type": "quantitative"}, "text": {"field": "t"}}}
   ]},
  {"width": 306, "height": 237, "title": {"text": "(b)", "dx": -46},
   "resolve": {"scale": {"color": "independent"}},
   "layer": [
    {"data": {"name": "b"}, "transform": [{"filter": "datum.s == 'env'"}], "mark": {"type": "area", "opacity": 0.75, "interpolate": "monotone"},
     "encoding": {"x": {"field": "x", "type": "quantitative", "scale": {"domain": [282.33, 291.87], "reverse": true, "nice": false, "zero": false}, "axis": {"values": [290, 285], "title": "Binding energy (eV)", "labelFontSize": 13}},
      "y": {"field": "y", "type": "quantitative", "scale": {"domain": [0, 100], "nice": false}, "axis": {"title": "Intensity (a.u.)"}},
      "y2": {"field": "b"},
      "color": {"field": "s", "type": "nominal", "scale": {"domain": ["env"], "range": ["#f5b4ae"]}, "legend": null}}},
    {"data": {"name": "b"}, "transform": [{"filter": "datum.s != 'env' && datum.s != 'base'"}], "mark": {"type": "area", "opacity": 0.85, "interpolate": "monotone"},
     "encoding": {"x": {"field": "x", "type": "quantitative"}, "y": {"field": "y", "type": "quantitative"}, "y2": {"field": "b"}, "color": {"field": "s", "type": "nominal", "scale": {"domain": ["p1", "p2", "p3"], "range": ["#93bcf0", "#cfe3cf", "#d8bdf2"]}, "legend": null}}},
    {"data": {"name": "b"}, "mark": {"type": "line", "strokeWidth": 2, "interpolate": "monotone"},
     "encoding": {"x": {"field": "x", "type": "quantitative"}, "y": {"field": "y", "type": "quantitative"}, "color": {"field": "s", "type": "nominal", "scale": {"domain": ["env", "p1", "p2", "p3", "base"], "range": ["#e8453c", "#2a6fd6", "#4cb870", "#b27be0", "#d6a418"]}, "legend": null}, "order": {"field": "x", "type": "quantitative"}}},
    {"data": {"name": "b_pts"}, "mark": {"type": "circle", "size": 26, "fill": "#8c8c8c", "stroke": "#333", "strokeWidth": 0.7, "opacity": 1},
     "encoding": {"x": {"field": "x", "type": "quantitative"}, "y": {"field": "y", "type": "quantitative"}}},
    {"data": {"name": "b_lab"}, "mark": {"type": "text", "fontSize": 14, "color": "#222"},
     "encoding": {"x": {"field": "x", "type": "quantitative"}, "y": {"field": "y", "type": "quantitative"}, "text": {"field": "t"}}}
   ]}
 ], "spacing": 51, "bounds": "flush", "resolve": {"scale": {"color": "independent"}}},
 {"hconcat": [
  {"width": 299, "height": 222, "title": {"text": "(c)"},
   "resolve": {"scale": {"color": "independent"}},
   "layer": [
    {"data": {"name": "c"}, "transform": [{"filter": "datum.s != 'env' && datum.s != 'base'"}], "mark": {"type": "area", "opacity": 0.72, "interpolate": "monotone"},
     "encoding": {"x": {"field": "x", "type": "quantitative", "scale": {"domain": [632.53, 655.86], "reverse": true, "nice": false, "zero": false}, "axis": {"values": [655, 650, 645, 640, 635], "title": "Binding energy (eV)"}},
      "y": {"field": "y", "type": "quantitative", "scale": {"domain": [0, 100], "nice": false}, "axis": {"title": "Intensity (a.u.)"}},
      "y2": {"field": "b"},
      "color": {"field": "s", "type": "nominal", "scale": {"domain": ["p1", "p2"], "range": ["#f4a9a6", "#8fb8ef"]}, "legend": null}}},
    {"data": {"name": "c"}, "mark": {"type": "line", "strokeWidth": 2, "interpolate": "monotone"},
     "encoding": {"x": {"field": "x", "type": "quantitative"}, "y": {"field": "y", "type": "quantitative"}, "color": {"field": "s", "type": "nominal", "scale": {"domain": ["p1", "p2", "base"], "range": ["#e8474a", "#2a64d6", "#4cb37c"]}, "legend": null}, "order": {"field": "x", "type": "quantitative"}}},
    {"data": {"name": "c_pts"}, "mark": {"type": "circle", "size": 26, "fill": "#8c8c8c", "stroke": "#333", "strokeWidth": 0.7, "opacity": 1},
     "encoding": {"x": {"field": "x", "type": "quantitative"}, "y": {"field": "y", "type": "quantitative"}}},
    {"data": {"name": "c_lab"}, "transform": [{"filter": "!datum.sub"}], "mark": {"type": "text", "fontSize": 14, "color": "#222"},
     "encoding": {"x": {"field": "x", "type": "quantitative"}, "y": {"field": "y", "type": "quantitative"}, "text": {"field": "t"}}},
    {"data": {"name": "c_lab"}, "transform": [{"filter": "datum.sub"}], "mark": {"type": "text", "fontSize": 14, "color": "#222", "align": "right"},
     "encoding": {"x": {"field": "x", "type": "quantitative"}, "y": {"field": "y", "type": "quantitative"}, "text": {"field": "t"}}},
    {"data": {"name": "c_lab"}, "transform": [{"filter": "datum.sub"}], "mark": {"type": "text", "fontSize": 10, "color": "#222", "align": "left", "dx": 1, "dy": 5},
     "encoding": {"x": {"field": "x", "type": "quantitative"}, "y": {"field": "y", "type": "quantitative"}, "text": {"field": "sub"}}}
   ]},
  {"width": 299, "height": 222, "title": {"text": "(d)"},
   "resolve": {"scale": {"color": "independent"}},
   "layer": [
    {"data": {"name": "d"}, "transform": [{"filter": "datum.s != 'env' && datum.s != 'base'"}], "mark": {"type": "area", "opacity": 0.7, "interpolate": "monotone"},
     "encoding": {"x": {"field": "x", "type": "quantitative", "scale": {"domain": [774.9, 810], "reverse": true, "nice": false, "zero": false}, "axis": {"values": [810, 800, 790, 780], "title": "Binding energy (eV)"}},
      "y": {"field": "y", "type": "quantitative", "scale": {"domain": [0, 100], "nice": false}, "axis": {"title": "Intensity (a.u.)"}},
      "y2": {"field": "b"},
      "color": {"field": "s", "type": "nominal", "scale": {"domain": ["p1", "p2", "p3", "p4"], "range": ["#f4a9a6", "#8fb8ef", "#c2e6cf", "#d6b8f2"]}, "legend": null}}},
    {"data": {"name": "d"}, "mark": {"type": "line", "strokeWidth": 2, "interpolate": "monotone"},
     "encoding": {"x": {"field": "x", "type": "quantitative"}, "y": {"field": "y", "type": "quantitative"}, "color": {"field": "s", "type": "nominal", "scale": {"domain": ["env", "p1", "p2", "p3", "p4", "base"], "range": ["#d9a21b", "#e84040", "#2a6fd6", "#4cb870", "#b27be0", "#d9a21b"]}, "legend": null}, "order": {"field": "x", "type": "quantitative"}}},
    {"data": {"name": "d_pts"}, "mark": {"type": "circle", "size": 26, "fill": "#8c8c8c", "stroke": "#333", "strokeWidth": 0.7, "opacity": 1},
     "encoding": {"x": {"field": "x", "type": "quantitative"}, "y": {"field": "y", "type": "quantitative"}}},
    {"data": {"name": "d_lab"}, "transform": [{"filter": "!datum.sub"}], "mark": {"type": "text", "fontSize": 14, "color": "#222"},
     "encoding": {"x": {"field": "x", "type": "quantitative"}, "y": {"field": "y", "type": "quantitative"}, "text": {"field": "t"}}},
    {"data": {"name": "d_lab"}, "transform": [{"filter": "datum.sub"}], "mark": {"type": "text", "fontSize": 14, "color": "#222", "align": "right"},
     "encoding": {"x": {"field": "x", "type": "quantitative"}, "y": {"field": "y", "type": "quantitative"}, "text": {"field": "t"}}},
    {"data": {"name": "d_lab"}, "transform": [{"filter": "datum.sub"}], "mark": {"type": "text", "fontSize": 10, "color": "#222", "align": "left", "dx": 1, "dy": 5},
     "encoding": {"x": {"field": "x", "type": "quantitative"}, "y": {"field": "y", "type": "quantitative"}, "text": {"field": "sub"}}}
   ]},
  {"width": 299, "height": 222, "title": {"text": "(e)"},
   "resolve": {"scale": {"color": "independent"}},
   "layer": [
    {"data": {"name": "e"}, "transform": [{"filter": "datum.s != 'env' && datum.s != 'base'"}], "mark": {"type": "area", "opacity": 0.7, "interpolate": "monotone"},
     "encoding": {"x": {"field": "x", "type": "quantitative", "scale": {"domain": [849.79, 888.67], "reverse": true, "nice": false, "zero": false}, "axis": {"values": [880, 870, 860, 850], "title": "Binding energy (eV)"}},
      "y": {"field": "y", "type": "quantitative", "scale": {"domain": [0, 100], "nice": false}, "axis": {"title": "Intensity (a.u.)"}},
      "y2": {"field": "b"},
      "color": {"field": "s", "type": "nominal", "scale": {"domain": ["p1", "p2", "p3", "p4"], "range": ["#f4a9a6", "#8fb8ef", "#c2e6cf", "#d6b8f2"]}, "legend": null}}},
    {"data": {"name": "e"}, "mark": {"type": "line", "strokeWidth": 2, "interpolate": "monotone"},
     "encoding": {"x": {"field": "x", "type": "quantitative"}, "y": {"field": "y", "type": "quantitative"}, "color": {"field": "s", "type": "nominal", "scale": {"domain": ["env", "p1", "p2", "p3", "p4", "base"], "range": ["#d9a21b", "#e84040", "#2a6fd6", "#4cb870", "#b27be0", "#d9a21b"]}, "legend": null}, "order": {"field": "x", "type": "quantitative"}}},
    {"data": {"name": "e_pts"}, "mark": {"type": "circle", "size": 26, "fill": "#8c8c8c", "stroke": "#333", "strokeWidth": 0.7, "opacity": 1},
     "encoding": {"x": {"field": "x", "type": "quantitative"}, "y": {"field": "y", "type": "quantitative"}}},
    {"data": {"name": "e_lab"}, "transform": [{"filter": "!datum.sub"}], "mark": {"type": "text", "fontSize": 14, "color": "#222"},
     "encoding": {"x": {"field": "x", "type": "quantitative"}, "y": {"field": "y", "type": "quantitative"}, "text": {"field": "t"}}},
    {"data": {"name": "e_lab"}, "transform": [{"filter": "datum.sub"}], "mark": {"type": "text", "fontSize": 14, "color": "#222", "align": "right"},
     "encoding": {"x": {"field": "x", "type": "quantitative"}, "y": {"field": "y", "type": "quantitative"}, "text": {"field": "t"}}},
    {"data": {"name": "e_lab"}, "transform": [{"filter": "datum.sub"}], "mark": {"type": "text", "fontSize": 10, "color": "#222", "align": "left", "dx": 1, "dy": 5},
     "encoding": {"x": {"field": "x", "type": "quantitative"}, "y": {"field": "y", "type": "quantitative"}, "text": {"field": "sub"}}}
   ]}
 ], "spacing": 44, "bounds": "flush", "resolve": {"scale": {"color": "independent"}}},
 {"hconcat": [
  {"width": 299, "height": 230, "title": {"text": "(f)"},
   "resolve": {"scale": {"color": "independent"}},
   "layer": [
    {"data": {"name": "f"}, "transform": [{"filter": "datum.s != 'env' && datum.s != 'base'"}], "mark": {"type": "area", "opacity": 0.5, "interpolate": "monotone"},
     "encoding": {"x": {"field": "x", "type": "quantitative", "scale": {"domain": [527.47, 536.07], "reverse": true, "nice": false, "zero": false}, "axis": {"values": [534, 531, 528], "title": "Binding energy (eV)"}},
      "y": {"field": "y", "type": "quantitative", "scale": {"domain": [0, 100], "nice": false}, "axis": {"title": "Intensity (a.u.)"}},
      "y2": {"field": "b"},
      "color": {"field": "s", "type": "nominal", "scale": {"domain": ["p1", "p2", "p3"], "range": ["#f4a9a6", "#8fb8ef", "#c2e6cf"]}, "legend": null}}},
    {"data": {"name": "f"}, "mark": {"type": "line", "strokeWidth": 2, "interpolate": "monotone"},
     "encoding": {"x": {"field": "x", "type": "quantitative"}, "y": {"field": "y", "type": "quantitative"}, "color": {"field": "s", "type": "nominal", "scale": {"domain": ["env", "p1", "p2", "p3", "base"], "range": ["#d6a51e", "#e84040", "#2a6fd6", "#4cb870", "#b57ae6"]}, "legend": null}, "order": {"field": "x", "type": "quantitative"}}},
    {"data": {"name": "f_pts"}, "mark": {"type": "circle", "size": 18, "fill": "#8c8c8c", "stroke": "#333", "strokeWidth": 0.6, "opacity": 1},
     "encoding": {"x": {"field": "x", "type": "quantitative"}, "y": {"field": "y", "type": "quantitative"}}},
    {"data": {"name": "f_lab"}, "mark": {"type": "text", "fontSize": 15, "color": "#222"},
     "encoding": {"x": {"field": "x", "type": "quantitative"}, "y": {"field": "y", "type": "quantitative"}, "text": {"field": "t"}}}
   ]},
  {"width": 298, "height": 230, "title": {"text": "(g)"},
   "layer": [
    {"data": {"name": "g"}, "mark": {"type": "line", "strokeWidth": 1.6, "interpolate": "monotone"},
     "encoding": {"x": {"field": "x", "type": "quantitative", "scale": {"domain": [397, 3806], "reverse": true, "nice": false, "zero": false}, "axis": {"values": [3500, 3000, 2500, 2000, 1500, 1000, 500], "title": "Wavenumber (cm⁻¹)"}},
      "y": {"field": "y", "type": "quantitative", "scale": {"domain": [0, 100], "nice": false}, "axis": {"title": "Transmittance (%)"}},
      "color": {"field": "s", "type": "nominal", "scale": {"domain": ["MCN", "LDH", "MnO2"], "range": ["#6f7ff2", "#e2a93a", "#27c427"]}, "legend": null},
      "order": {"field": "x", "type": "quantitative"}}},
    {"data": {"name": "g_lab"}, "transform": [{"filter": "datum.z == 'big'"}], "mark": {"type": "text", "fontSize": 12.5},
     "encoding": {"x": {"field": "x", "type": "quantitative"}, "y": {"field": "y", "type": "quantitative"}, "text": {"field": "t"}, "color": {"field": "s", "type": "nominal", "legend": null}}},
    {"data": {"name": "g_lab"}, "transform": [{"filter": "datum.z == 'small'"}], "mark": {"type": "text", "fontSize": 8.5},
     "encoding": {"x": {"field": "x", "type": "quantitative"}, "y": {"field": "y", "type": "quantitative"}, "text": {"field": "t"}, "color": {"field": "s", "type": "nominal", "legend": null}}},
    {"data": {"name": "g_sub"}, "mark": {"type": "text", "fontSize": 12.5, "align": "right"},
     "encoding": {"x": {"field": "x", "type": "quantitative"}, "y": {"field": "y", "type": "quantitative"}, "text": {"field": "t"}, "color": {"field": "s", "type": "nominal", "legend": null}}},
    {"data": {"name": "g_sub"}, "mark": {"type": "text", "fontSize": 9, "align": "left", "dx": 1, "dy": 4},
     "encoding": {"x": {"field": "x", "type": "quantitative"}, "y": {"field": "y", "type": "quantitative"}, "text": {"field": "sub"}, "color": {"field": "s", "type": "nominal", "legend": null}}}
   ]},
  {"width": 301, "height": 230, "title": {"text": "(h)"},
   "layer": [
    {"data": {"name": "h"}, "mark": {"type": "line", "strokeWidth": 1.6, "interpolate": "monotone"},
     "encoding": {"x": {"field": "x", "type": "quantitative", "scale": {"domain": [0, 80], "nice": false, "zero": false}, "axis": {"values": [0, 10, 20, 30, 40, 50, 60, 70, 80], "title": "2 Theta (deg)"}},
      "y": {"field": "y", "type": "quantitative", "scale": {"domain": [0, 100], "nice": false}, "axis": {"title": "Intensity (a.u.)"}},
      "color": {"field": "s", "type": "nominal", "scale": {"domain": ["MCN", "LDH", "MnO2", "CF"], "range": ["#1a1a1a", "#f07a2a", "#e2e26a", "#c84cf0"]}, "legend": null},
      "order": {"field": "x", "type": "quantitative"}}},
    {"data": {"name": "h_lab"}, "mark": {"type": "text", "fontSize": 12.5},
     "encoding": {"x": {"field": "x", "type": "quantitative"}, "y": {"field": "y", "type": "quantitative"}, "text": {"field": "t"}, "color": {"field": "s", "type": "nominal", "legend": null}}},
    {"data": {"name": "h_sub"}, "mark": {"type": "text", "fontSize": 12.5, "align": "right"},
     "encoding": {"x": {"field": "x", "type": "quantitative"}, "y": {"field": "y", "type": "quantitative"}, "text": {"field": "t"}, "color": {"field": "s", "type": "nominal", "legend": null}}},
    {"data": {"name": "h_sub"}, "mark": {"type": "text", "fontSize": 9, "align": "left", "dx": 1, "dy": 4},
     "encoding": {"x": {"field": "x", "type": "quantitative"}, "y": {"field": "y", "type": "quantitative"}, "text": {"field": "sub"}, "color": {"field": "s", "type": "nominal", "legend": null}}}
   ]}
 ], "spacing": 43, "bounds": "flush", "resolve": {"scale": {"color": "independent"}}}
]
}
